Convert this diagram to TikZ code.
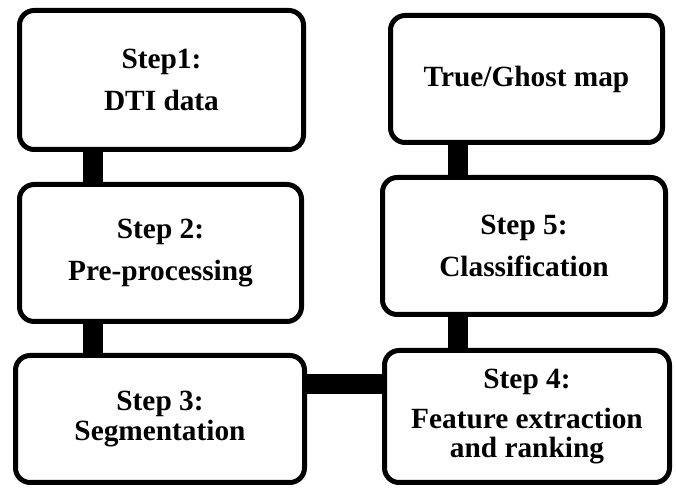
\documentclass[tikz,border=0pt]{standalone}
\usepackage{fontspec}
\setmainfont{Liberation Serif}
\begin{document}
\begin{tikzpicture}[x=0.75pt,y=-0.75pt,
  stepbox/.style={draw=black,line width=3.75pt,rounded corners=11pt,align=center,
    font=\fontsize{22}{26}\selectfont\bfseries,inner sep=0pt},
  bar/.style={draw=black,line width=15pt}]
\useasboundingbox (0,0) rectangle (676,488);

% left column
\node[stepbox,minimum width=213pt,minimum height=104.25pt] (s1) at (161.5,80) {Step1:\\[5.5pt]DTI data};
\node[stepbox,minimum width=211.5pt,minimum height=102.75pt] (s2) at (160.5,253) {Step 2:\\[5.5pt]Pre-processing};
\node[stepbox,minimum width=216.75pt,minimum height=95.25pt] (s3) at (160,419) {Step 3:\\[-3.5pt]Segmentation};

% right column
\node[stepbox,minimum width=213.75pt,minimum height=99pt] (s4) at (527,416.5) {Step 4:\\[4pt]Feature extraction\\[-4.5pt]and ranking};
\node[stepbox,minimum width=212.25pt,minimum height=102.75pt] (s5) at (524,246) {Step 5:\\[5.5pt]Classification};
\node[stepbox,minimum width=204pt,minimum height=95.25pt] (s6) at (526.5,79) {True/Ghost map};

% connecting bars
\coordinate (lx) at (92.5,0);
\coordinate (rx) at (458,0);
\coordinate (my) at (0,384);
\draw[bar] (s1.south -| lx) -- (s2.north -| lx);
\draw[bar] (s2.south -| lx) -- (s3.north -| lx);
\draw[bar] (s3.east |- my) -- (s4.west |- my);
\draw[bar] (s6.south -| rx) -- (s5.north -| rx);
\draw[bar] (s5.south -| rx) -- (s4.north -| rx);
\end{tikzpicture}
\end{document}
